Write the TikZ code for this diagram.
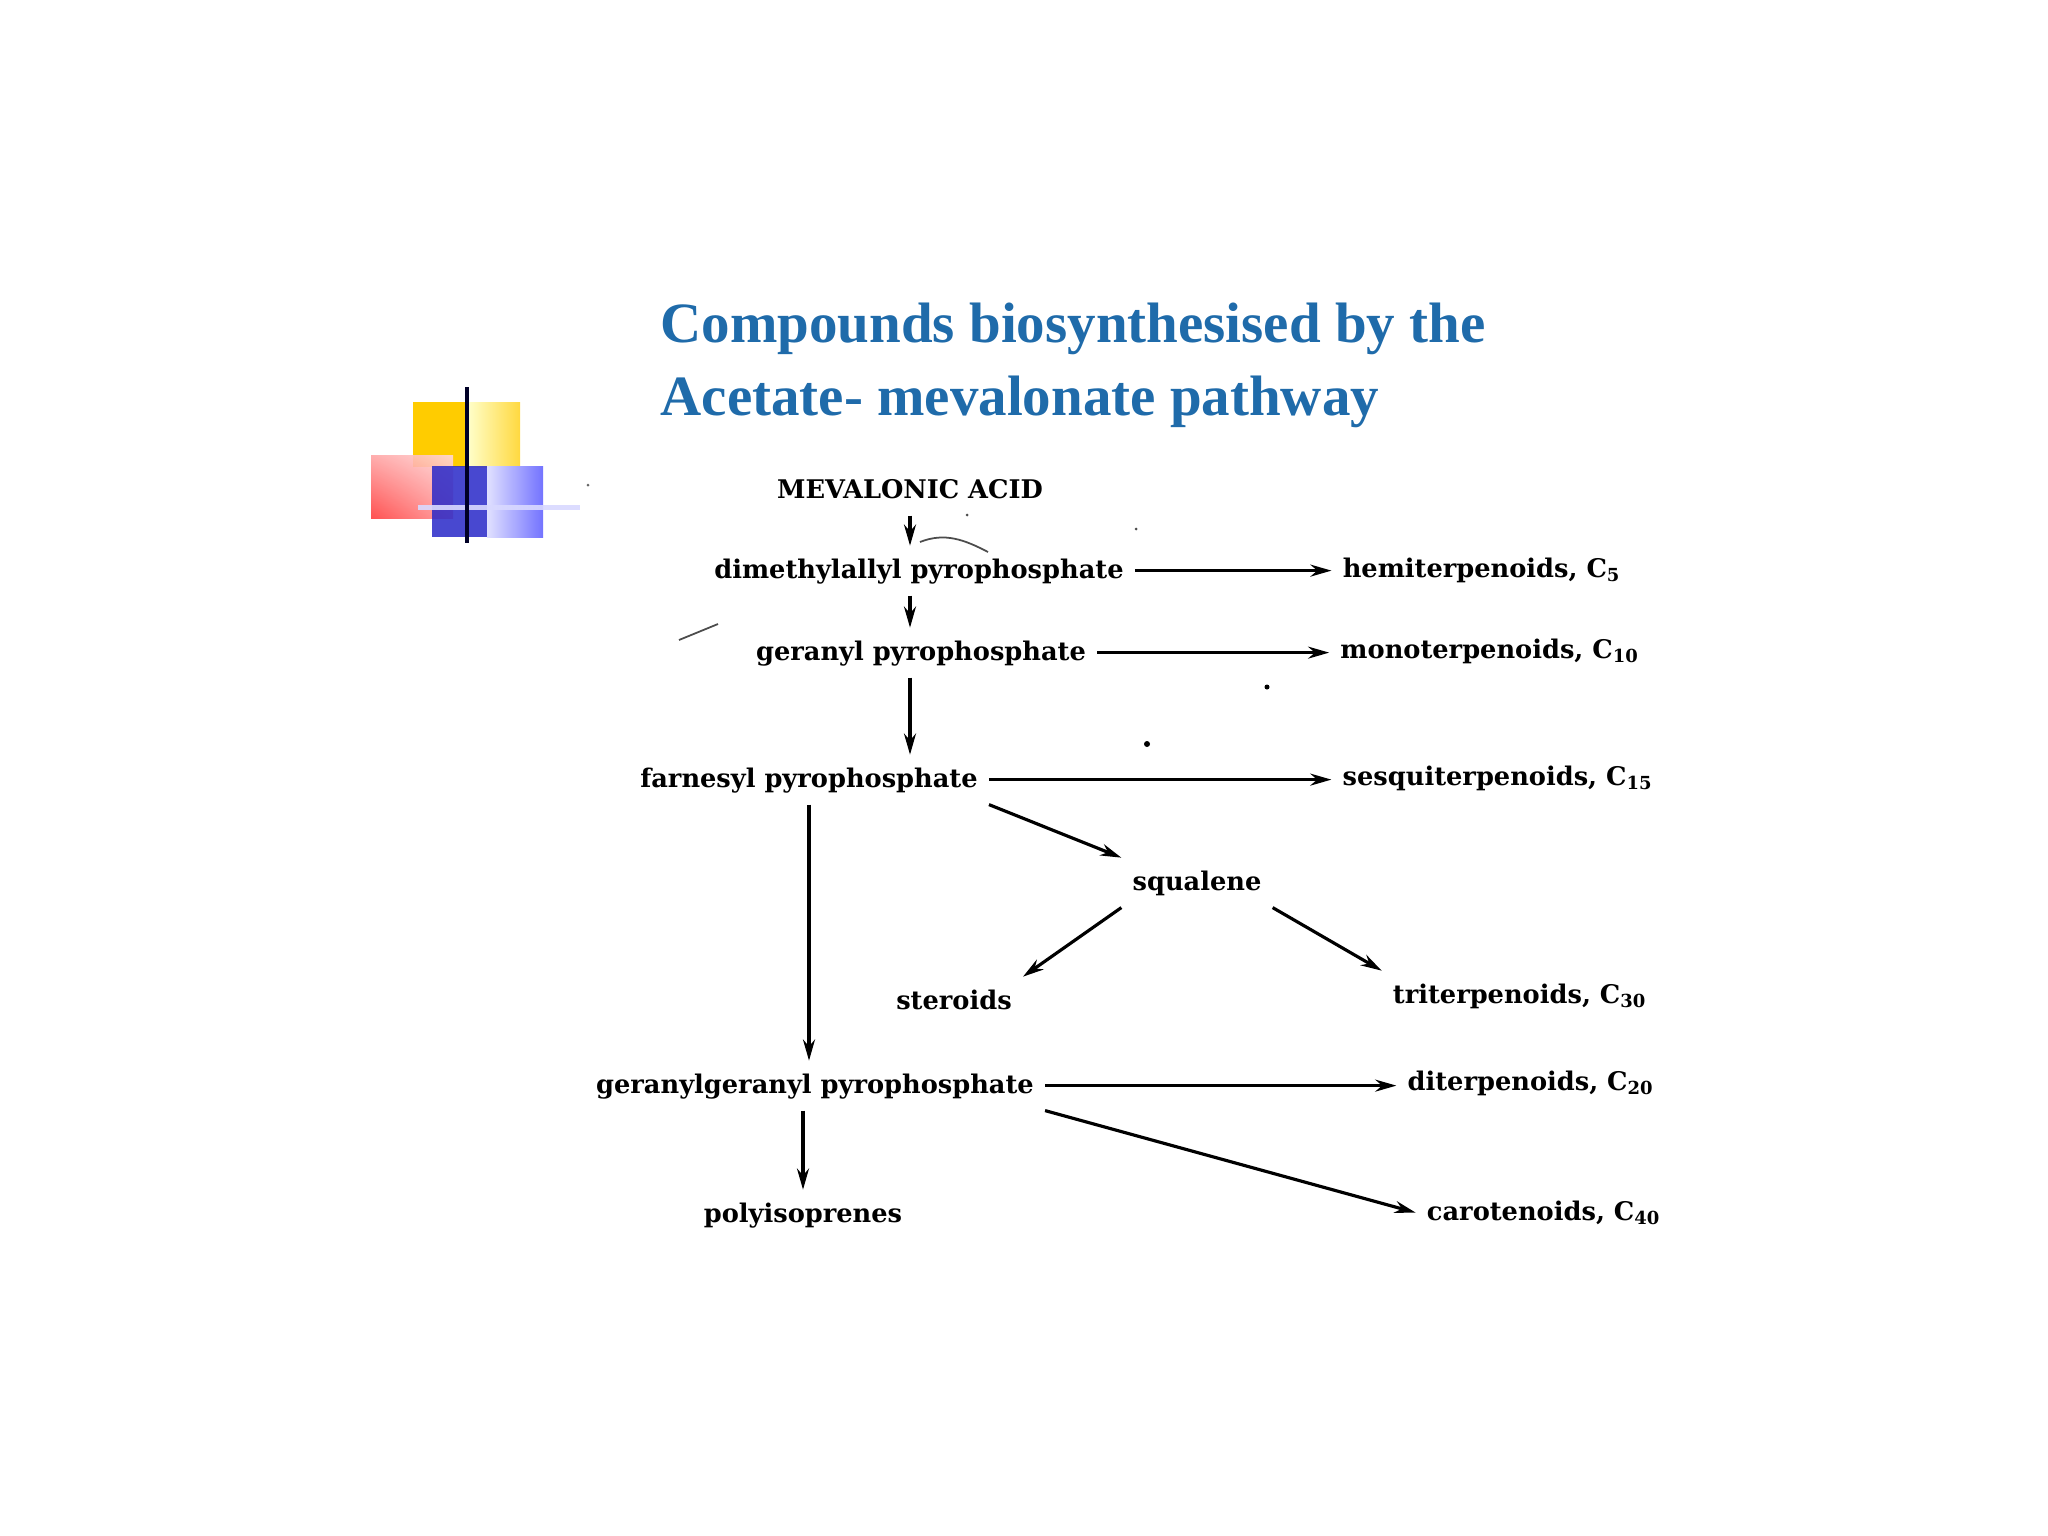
\documentclass[tikz,border=0pt]{standalone}
\usepackage{fontspec}
\setmainfont{DejaVu Serif}
\newfontfamily\headfont{Liberation Serif}
\usepackage{xcolor}
\usetikzlibrary{arrows.meta,shadings}
\definecolor{headblue}{RGB}{31,107,170}
\definecolor{logogold}{RGB}{255,204,0}
\definecolor{logoblue}{RGB}{40,40,200}

\begin{document}
\begin{tikzpicture}[x=0.01cm,y=-0.01cm,
  lbl/.style={font=\bfseries\fontsize{7.3}{8.5}\selectfont, inner sep=3pt, text height=6pt, text depth=1.8pt, anchor=base},
  flow/.style={-{Stealth[length=6pt,width=3.4pt]}, line width=0.9pt},
  speck/.style={line width=0.5pt, black!70}]
\useasboundingbox (0,0) rectangle (2048,1536);
\fill[white] (0,0) rectangle (2048,1536);

% logo
\fill[logogold] (413,402) rectangle (467,467);
\shade[left color=yellow!20, right color=logogold!75] (467,402) rectangle (520,467);
\shade[opacity=.9, upper left=red!35, upper right=red!15, lower left=red!75, lower right=red!40] (371,455) rectangle (453,518);
\fill[logoblue, opacity=.85] (432,466) rectangle (487,537);
\shade[left color=blue!12, right color=blue!55] (487,466) rectangle (543,537);
\fill[white!85!blue, opacity=.9] (418,505) rectangle (580,510);
\fill[black!85!blue] (465,387) rectangle (469,543);
\fill[black!60] (588,485) circle (1.5);

% title
\node[anchor=base west, font=\headfont\bfseries\fontsize{16.2}{19}\selectfont, text=headblue, inner sep=0pt] (title1) at (660,342) {Compounds biosynthesised by the};
\node[anchor=base west, font=\headfont\bfseries\fontsize{16.2}{19}\selectfont, text=headblue, inner sep=0pt] (title2) at (660,415) {Acetate- mevalonate pathway};

% pathway
\node[lbl] (mev) at (910,498) {MEVALONIC ACID};
\node[lbl] (dmapp) at (919,578) {dimethylallyl pyrophosphate};
\node[lbl] (hemi) at (1482,577) {hemiterpenoids, C\textsubscript{5}};
\node[lbl] (gpp) at (921,660) {geranyl pyrophosphate};
\node[lbl] (mono) at (1490,658) {monoterpenoids, C\textsubscript{10}};
\node[lbl] (fpp) at (809,787) {farnesyl pyrophosphate};
\node[lbl] (sesqui) at (1498,785) {sesquiterpenoids, C\textsubscript{15}};
\node[lbl] (squal) at (1197,890) {squalene};
\node[lbl] (ster) at (954,1009) {steroids};
\node[lbl] (tri) at (1520,1003) {triterpenoids, C\textsubscript{30}};
\node[lbl] (ggpp) at (815,1093) {geranylgeranyl pyrophosphate};
\node[lbl] (di) at (1531,1090) {diterpenoids, C\textsubscript{20}};
\node[lbl] (poly) at (803,1222) {polyisoprenes};
\node[lbl] (caro) at (1544,1220) {carotenoids, C\textsubscript{40}};

\draw[flow] (mev.south) -- (mev.south |- dmapp.north);
\draw[flow] (mev.south |- dmapp.south) -- (mev.south |- gpp.north);
\draw[flow] (mev.south |- gpp.south) -- (mev.south |- fpp.north);
\draw[flow] (dmapp.east) -- (dmapp.east -| hemi.west);
\draw[flow] (gpp.east) -- (gpp.east -| mono.west);
\draw[flow] (fpp.east) -- (fpp.east -| sesqui.west);
\draw[flow] (fpp.south east) -- (squal.north west);
\draw[flow] (squal.south west) -- (ster.north east);
\draw[flow] (squal.south east) -- (tri.north west);
\draw[flow] (fpp.south) -- (fpp.south |- ggpp.north);
\draw[flow] (ggpp.east) -- (ggpp.east -| di.west);
\draw[flow] (ggpp.south east) -- (caro.west);
\draw[flow] (ggpp.south -| poly.north) -- (poly.north);

% scan specks
\draw[speck] (920,542) .. controls (945,532) and (965,540) .. (988,552);
\draw[speck] (679,640) -- (718,624);
\fill[black!70] (967,515) circle (1.5);
\fill[black!70] (1136,529) circle (1.5);
\fill[black] (1147,744) circle (3);
\fill[black] (1267,687) circle (2.5);
\end{tikzpicture}
\end{document}
